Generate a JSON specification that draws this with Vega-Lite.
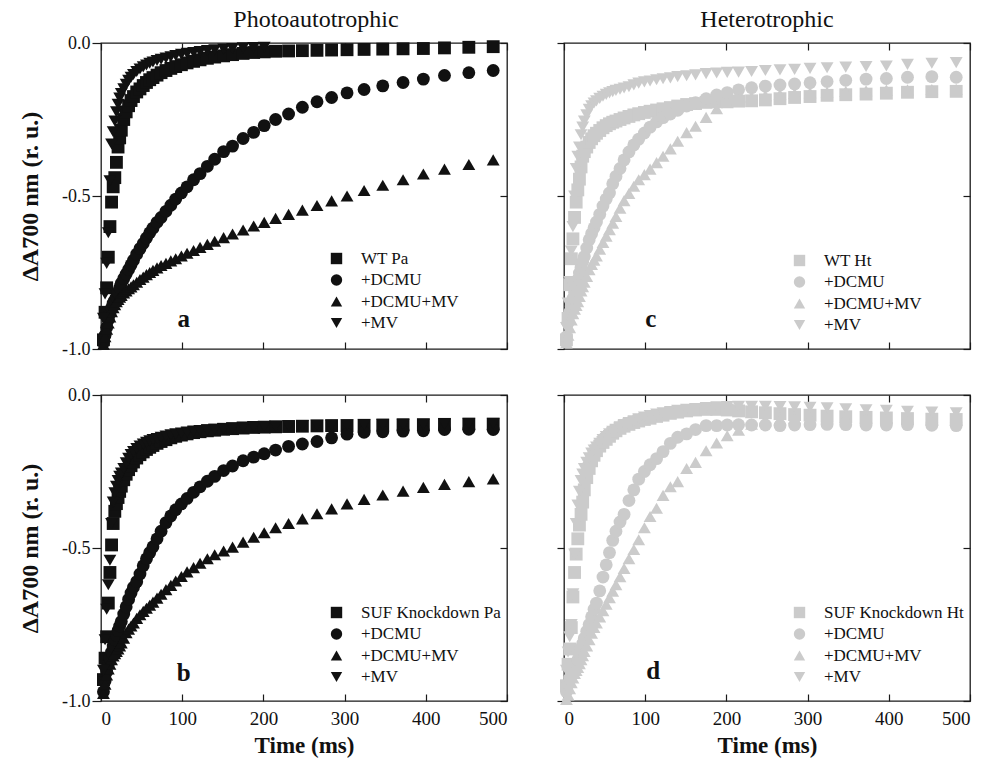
{
"$schema": "https://vega.github.io/schema/vega-lite/v6.json",
"background": "white",
"padding": {"left": 17, "top": 7, "right": 0, "bottom": 0},
"config": {
  "view": {"stroke": "#1a1a1a", "strokeWidth": 1.3},
  "axis": {"domain": false, "grid": false, "tickColor": "#1a1a1a", "tickWidth": 1.2, "labelColor": "#111", "titleColor": "#111"},
  "font": "Liberation Serif"
},
"datasets": {
"lbl": [
{"p":"a","t":102,"v":-0.928},{"p":"b","t":102,"v":-0.935},{"p":"c","t":107,"v":-0.928},{"p":"d","t":110,"v":-0.928}
],
"pts": [
{"p":"a","s":"WT Pa","t":3,"v":-0.97},{"p":"a","s":"WT Pa","t":5,"v":-0.88},{"p":"a","s":"WT Pa","t":7,"v":-0.80},{"p":"a","s":"WT Pa","t":9,"v":-0.70},{"p":"a","s":"WT Pa","t":11,"v":-0.60},{"p":"a","s":"WT Pa","t":13,"v":-0.52},{"p":"a","s":"WT Pa","t":15,"v":-0.47},{"p":"a","s":"WT Pa","t":17,"v":-0.44},{"p":"a","s":"WT Pa","t":19,"v":-0.39},{"p":"a","s":"WT Pa","t":21,"v":-0.34},{"p":"a","s":"WT Pa","t":23,"v":-0.31},{"p":"a","s":"WT Pa","t":25,"v":-0.285},{"p":"a","s":"WT Pa","t":28,"v":-0.25},{"p":"a","s":"WT Pa","t":31,"v":-0.225},{"p":"a","s":"WT Pa","t":34,"v":-0.205},{"p":"a","s":"WT Pa","t":37,"v":-0.188},{"p":"a","s":"WT Pa","t":40,"v":-0.175},{"p":"a","s":"WT Pa","t":44,"v":-0.16},{"p":"a","s":"WT Pa","t":48,"v":-0.15},{"p":"a","s":"WT Pa","t":52,"v":-0.139},{"p":"a","s":"WT Pa","t":56,"v":-0.129},{"p":"a","s":"WT Pa","t":60,"v":-0.12},{"p":"a","s":"WT Pa","t":64,"v":-0.113},{"p":"a","s":"WT Pa","t":69,"v":-0.105},{"p":"a","s":"WT Pa","t":74,"v":-0.097},{"p":"a","s":"WT Pa","t":80,"v":-0.09},{"p":"a","s":"WT Pa","t":86,"v":-0.083},{"p":"a","s":"WT Pa","t":92,"v":-0.077},{"p":"a","s":"WT Pa","t":99,"v":-0.071},{"p":"a","s":"WT Pa","t":106,"v":-0.065},{"p":"a","s":"WT Pa","t":114,"v":-0.06},{"p":"a","s":"WT Pa","t":122,"v":-0.055},{"p":"a","s":"WT Pa","t":131,"v":-0.05},{"p":"a","s":"WT Pa","t":140,"v":-0.046},{"p":"a","s":"WT Pa","t":151,"v":-0.042},{"p":"a","s":"WT Pa","t":162,"v":-0.038},{"p":"a","s":"WT Pa","t":175,"v":-0.034},{"p":"a","s":"WT Pa","t":188,"v":-0.031},{"p":"a","s":"WT Pa","t":201,"v":-0.029},{"p":"a","s":"WT Pa","t":215,"v":-0.027},{"p":"a","s":"WT Pa","t":231,"v":-0.026},{"p":"a","s":"WT Pa","t":248,"v":-0.025},{"p":"a","s":"WT Pa","t":266,"v":-0.024},{"p":"a","s":"WT Pa","t":284,"v":-0.023},{"p":"a","s":"WT Pa","t":303,"v":-0.022},{"p":"a","s":"WT Pa","t":324,"v":-0.021},{"p":"a","s":"WT Pa","t":347,"v":-0.02},{"p":"a","s":"WT Pa","t":372,"v":-0.019},{"p":"a","s":"WT Pa","t":397,"v":-0.018},{"p":"a","s":"WT Pa","t":423,"v":-0.016},{"p":"a","s":"WT Pa","t":453,"v":-0.014},{"p":"a","s":"WT Pa","t":483,"v":-0.012},
{"p":"a","s":"+DCMU","t":3,"v":-0.98},{"p":"a","s":"+DCMU","t":5,"v":-0.955},{"p":"a","s":"+DCMU","t":7,"v":-0.93},{"p":"a","s":"+DCMU","t":9,"v":-0.905},{"p":"a","s":"+DCMU","t":11,"v":-0.885},{"p":"a","s":"+DCMU","t":13,"v":-0.865},{"p":"a","s":"+DCMU","t":15,"v":-0.85},{"p":"a","s":"+DCMU","t":17,"v":-0.84},{"p":"a","s":"+DCMU","t":19,"v":-0.83},{"p":"a","s":"+DCMU","t":21,"v":-0.815},{"p":"a","s":"+DCMU","t":23,"v":-0.80},{"p":"a","s":"+DCMU","t":25,"v":-0.785},{"p":"a","s":"+DCMU","t":28,"v":-0.77},{"p":"a","s":"+DCMU","t":31,"v":-0.755},{"p":"a","s":"+DCMU","t":34,"v":-0.74},{"p":"a","s":"+DCMU","t":37,"v":-0.725},{"p":"a","s":"+DCMU","t":40,"v":-0.71},{"p":"a","s":"+DCMU","t":44,"v":-0.69},{"p":"a","s":"+DCMU","t":48,"v":-0.672},{"p":"a","s":"+DCMU","t":52,"v":-0.655},{"p":"a","s":"+DCMU","t":56,"v":-0.637},{"p":"a","s":"+DCMU","t":60,"v":-0.62},{"p":"a","s":"+DCMU","t":64,"v":-0.605},{"p":"a","s":"+DCMU","t":69,"v":-0.586},{"p":"a","s":"+DCMU","t":74,"v":-0.57},{"p":"a","s":"+DCMU","t":80,"v":-0.55},{"p":"a","s":"+DCMU","t":86,"v":-0.53},{"p":"a","s":"+DCMU","t":92,"v":-0.51},{"p":"a","s":"+DCMU","t":99,"v":-0.49},{"p":"a","s":"+DCMU","t":106,"v":-0.47},{"p":"a","s":"+DCMU","t":114,"v":-0.447},{"p":"a","s":"+DCMU","t":122,"v":-0.427},{"p":"a","s":"+DCMU","t":131,"v":-0.403},{"p":"a","s":"+DCMU","t":140,"v":-0.38},{"p":"a","s":"+DCMU","t":151,"v":-0.355},{"p":"a","s":"+DCMU","t":162,"v":-0.337},{"p":"a","s":"+DCMU","t":175,"v":-0.312},{"p":"a","s":"+DCMU","t":188,"v":-0.292},{"p":"a","s":"+DCMU","t":201,"v":-0.27},{"p":"a","s":"+DCMU","t":215,"v":-0.25},{"p":"a","s":"+DCMU","t":231,"v":-0.232},{"p":"a","s":"+DCMU","t":248,"v":-0.21},{"p":"a","s":"+DCMU","t":266,"v":-0.192},{"p":"a","s":"+DCMU","t":284,"v":-0.178},{"p":"a","s":"+DCMU","t":303,"v":-0.163},{"p":"a","s":"+DCMU","t":324,"v":-0.152},{"p":"a","s":"+DCMU","t":347,"v":-0.14},{"p":"a","s":"+DCMU","t":372,"v":-0.129},{"p":"a","s":"+DCMU","t":397,"v":-0.118},{"p":"a","s":"+DCMU","t":423,"v":-0.106},{"p":"a","s":"+DCMU","t":453,"v":-0.097},{"p":"a","s":"+DCMU","t":483,"v":-0.09},
{"p":"a","s":"+DCMU+MV","t":3,"v":-0.985},{"p":"a","s":"+DCMU+MV","t":5,"v":-0.96},{"p":"a","s":"+DCMU+MV","t":7,"v":-0.935},{"p":"a","s":"+DCMU+MV","t":9,"v":-0.915},{"p":"a","s":"+DCMU+MV","t":11,"v":-0.895},{"p":"a","s":"+DCMU+MV","t":13,"v":-0.878},{"p":"a","s":"+DCMU+MV","t":15,"v":-0.865},{"p":"a","s":"+DCMU+MV","t":17,"v":-0.855},{"p":"a","s":"+DCMU+MV","t":19,"v":-0.845},{"p":"a","s":"+DCMU+MV","t":21,"v":-0.838},{"p":"a","s":"+DCMU+MV","t":23,"v":-0.831},{"p":"a","s":"+DCMU+MV","t":25,"v":-0.825},{"p":"a","s":"+DCMU+MV","t":28,"v":-0.817},{"p":"a","s":"+DCMU+MV","t":31,"v":-0.81},{"p":"a","s":"+DCMU+MV","t":34,"v":-0.803},{"p":"a","s":"+DCMU+MV","t":37,"v":-0.797},{"p":"a","s":"+DCMU+MV","t":40,"v":-0.79},{"p":"a","s":"+DCMU+MV","t":44,"v":-0.782},{"p":"a","s":"+DCMU+MV","t":48,"v":-0.773},{"p":"a","s":"+DCMU+MV","t":52,"v":-0.765},{"p":"a","s":"+DCMU+MV","t":56,"v":-0.757},{"p":"a","s":"+DCMU+MV","t":60,"v":-0.75},{"p":"a","s":"+DCMU+MV","t":64,"v":-0.743},{"p":"a","s":"+DCMU+MV","t":69,"v":-0.735},{"p":"a","s":"+DCMU+MV","t":74,"v":-0.727},{"p":"a","s":"+DCMU+MV","t":80,"v":-0.72},{"p":"a","s":"+DCMU+MV","t":86,"v":-0.712},{"p":"a","s":"+DCMU+MV","t":92,"v":-0.705},{"p":"a","s":"+DCMU+MV","t":99,"v":-0.696},{"p":"a","s":"+DCMU+MV","t":106,"v":-0.687},{"p":"a","s":"+DCMU+MV","t":114,"v":-0.678},{"p":"a","s":"+DCMU+MV","t":122,"v":-0.668},{"p":"a","s":"+DCMU+MV","t":131,"v":-0.658},{"p":"a","s":"+DCMU+MV","t":140,"v":-0.648},{"p":"a","s":"+DCMU+MV","t":151,"v":-0.636},{"p":"a","s":"+DCMU+MV","t":162,"v":-0.624},{"p":"a","s":"+DCMU+MV","t":175,"v":-0.611},{"p":"a","s":"+DCMU+MV","t":188,"v":-0.598},{"p":"a","s":"+DCMU+MV","t":201,"v":-0.586},{"p":"a","s":"+DCMU+MV","t":215,"v":-0.573},{"p":"a","s":"+DCMU+MV","t":231,"v":-0.56},{"p":"a","s":"+DCMU+MV","t":248,"v":-0.546},{"p":"a","s":"+DCMU+MV","t":266,"v":-0.531},{"p":"a","s":"+DCMU+MV","t":284,"v":-0.516},{"p":"a","s":"+DCMU+MV","t":303,"v":-0.5},{"p":"a","s":"+DCMU+MV","t":324,"v":-0.482},{"p":"a","s":"+DCMU+MV","t":347,"v":-0.465},{"p":"a","s":"+DCMU+MV","t":372,"v":-0.447},{"p":"a","s":"+DCMU+MV","t":397,"v":-0.428},{"p":"a","s":"+DCMU+MV","t":423,"v":-0.412},{"p":"a","s":"+DCMU+MV","t":453,"v":-0.397},{"p":"a","s":"+DCMU+MV","t":483,"v":-0.382},
{"p":"a","s":"+MV","t":3,"v":-0.9},{"p":"a","s":"+MV","t":5,"v":-0.82},{"p":"a","s":"+MV","t":7,"v":-0.72},{"p":"a","s":"+MV","t":9,"v":-0.62},{"p":"a","s":"+MV","t":11,"v":-0.45},{"p":"a","s":"+MV","t":13,"v":-0.33},{"p":"a","s":"+MV","t":15,"v":-0.29},{"p":"a","s":"+MV","t":17,"v":-0.255},{"p":"a","s":"+MV","t":19,"v":-0.225},{"p":"a","s":"+MV","t":21,"v":-0.2},{"p":"a","s":"+MV","t":23,"v":-0.18},{"p":"a","s":"+MV","t":25,"v":-0.165},{"p":"a","s":"+MV","t":28,"v":-0.15},{"p":"a","s":"+MV","t":31,"v":-0.135},{"p":"a","s":"+MV","t":34,"v":-0.122},{"p":"a","s":"+MV","t":37,"v":-0.112},{"p":"a","s":"+MV","t":40,"v":-0.103},{"p":"a","s":"+MV","t":44,"v":-0.093},{"p":"a","s":"+MV","t":48,"v":-0.085},{"p":"a","s":"+MV","t":52,"v":-0.078},{"p":"a","s":"+MV","t":56,"v":-0.072},{"p":"a","s":"+MV","t":60,"v":-0.066},{"p":"a","s":"+MV","t":64,"v":-0.062},{"p":"a","s":"+MV","t":69,"v":-0.057},{"p":"a","s":"+MV","t":74,"v":-0.053},{"p":"a","s":"+MV","t":80,"v":-0.049},{"p":"a","s":"+MV","t":86,"v":-0.045},{"p":"a","s":"+MV","t":92,"v":-0.041},{"p":"a","s":"+MV","t":99,"v":-0.037},{"p":"a","s":"+MV","t":106,"v":-0.034},{"p":"a","s":"+MV","t":114,"v":-0.031},{"p":"a","s":"+MV","t":122,"v":-0.028},{"p":"a","s":"+MV","t":131,"v":-0.025},{"p":"a","s":"+MV","t":140,"v":-0.022},{"p":"a","s":"+MV","t":151,"v":-0.02},{"p":"a","s":"+MV","t":162,"v":-0.018},{"p":"a","s":"+MV","t":175,"v":-0.016},{"p":"a","s":"+MV","t":188,"v":-0.015},{"p":"a","s":"+MV","t":201,"v":-0.014},
{"p":"b","s":"SUF Knockdown Pa","t":3,"v":-0.93},{"p":"b","s":"SUF Knockdown Pa","t":5,"v":-0.86},{"p":"b","s":"SUF Knockdown Pa","t":7,"v":-0.79},{"p":"b","s":"SUF Knockdown Pa","t":9,"v":-0.68},{"p":"b","s":"SUF Knockdown Pa","t":11,"v":-0.58},{"p":"b","s":"SUF Knockdown Pa","t":13,"v":-0.49},{"p":"b","s":"SUF Knockdown Pa","t":15,"v":-0.42},{"p":"b","s":"SUF Knockdown Pa","t":17,"v":-0.38},{"p":"b","s":"SUF Knockdown Pa","t":19,"v":-0.355},{"p":"b","s":"SUF Knockdown Pa","t":21,"v":-0.335},{"p":"b","s":"SUF Knockdown Pa","t":23,"v":-0.315},{"p":"b","s":"SUF Knockdown Pa","t":25,"v":-0.298},{"p":"b","s":"SUF Knockdown Pa","t":28,"v":-0.277},{"p":"b","s":"SUF Knockdown Pa","t":31,"v":-0.259},{"p":"b","s":"SUF Knockdown Pa","t":34,"v":-0.244},{"p":"b","s":"SUF Knockdown Pa","t":37,"v":-0.231},{"p":"b","s":"SUF Knockdown Pa","t":40,"v":-0.219},{"p":"b","s":"SUF Knockdown Pa","t":44,"v":-0.206},{"p":"b","s":"SUF Knockdown Pa","t":48,"v":-0.195},{"p":"b","s":"SUF Knockdown Pa","t":52,"v":-0.186},{"p":"b","s":"SUF Knockdown Pa","t":56,"v":-0.178},{"p":"b","s":"SUF Knockdown Pa","t":60,"v":-0.171},{"p":"b","s":"SUF Knockdown Pa","t":64,"v":-0.165},{"p":"b","s":"SUF Knockdown Pa","t":69,"v":-0.158},{"p":"b","s":"SUF Knockdown Pa","t":74,"v":-0.152},{"p":"b","s":"SUF Knockdown Pa","t":80,"v":-0.146},{"p":"b","s":"SUF Knockdown Pa","t":86,"v":-0.14},{"p":"b","s":"SUF Knockdown Pa","t":92,"v":-0.135},{"p":"b","s":"SUF Knockdown Pa","t":99,"v":-0.131},{"p":"b","s":"SUF Knockdown Pa","t":106,"v":-0.127},{"p":"b","s":"SUF Knockdown Pa","t":114,"v":-0.123},{"p":"b","s":"SUF Knockdown Pa","t":122,"v":-0.12},{"p":"b","s":"SUF Knockdown Pa","t":131,"v":-0.117},{"p":"b","s":"SUF Knockdown Pa","t":140,"v":-0.115},{"p":"b","s":"SUF Knockdown Pa","t":151,"v":-0.112},{"p":"b","s":"SUF Knockdown Pa","t":162,"v":-0.11},{"p":"b","s":"SUF Knockdown Pa","t":175,"v":-0.108},{"p":"b","s":"SUF Knockdown Pa","t":188,"v":-0.106},{"p":"b","s":"SUF Knockdown Pa","t":201,"v":-0.105},{"p":"b","s":"SUF Knockdown Pa","t":215,"v":-0.104},{"p":"b","s":"SUF Knockdown Pa","t":231,"v":-0.103},{"p":"b","s":"SUF Knockdown Pa","t":248,"v":-0.102},{"p":"b","s":"SUF Knockdown Pa","t":266,"v":-0.101},{"p":"b","s":"SUF Knockdown Pa","t":284,"v":-0.1},{"p":"b","s":"SUF Knockdown Pa","t":303,"v":-0.1},{"p":"b","s":"SUF Knockdown Pa","t":324,"v":-0.099},{"p":"b","s":"SUF Knockdown Pa","t":347,"v":-0.098},{"p":"b","s":"SUF Knockdown Pa","t":372,"v":-0.097},{"p":"b","s":"SUF Knockdown Pa","t":397,"v":-0.097},{"p":"b","s":"SUF Knockdown Pa","t":423,"v":-0.096},{"p":"b","s":"SUF Knockdown Pa","t":453,"v":-0.095},{"p":"b","s":"SUF Knockdown Pa","t":483,"v":-0.095},
{"p":"b","s":"+DCMU","t":3,"v":-0.97},{"p":"b","s":"+DCMU","t":5,"v":-0.935},{"p":"b","s":"+DCMU","t":7,"v":-0.905},{"p":"b","s":"+DCMU","t":9,"v":-0.88},{"p":"b","s":"+DCMU","t":11,"v":-0.86},{"p":"b","s":"+DCMU","t":13,"v":-0.84},{"p":"b","s":"+DCMU","t":15,"v":-0.82},{"p":"b","s":"+DCMU","t":17,"v":-0.8},{"p":"b","s":"+DCMU","t":19,"v":-0.785},{"p":"b","s":"+DCMU","t":21,"v":-0.77},{"p":"b","s":"+DCMU","t":23,"v":-0.755},{"p":"b","s":"+DCMU","t":25,"v":-0.74},{"p":"b","s":"+DCMU","t":28,"v":-0.716},{"p":"b","s":"+DCMU","t":31,"v":-0.692},{"p":"b","s":"+DCMU","t":34,"v":-0.668},{"p":"b","s":"+DCMU","t":37,"v":-0.647},{"p":"b","s":"+DCMU","t":40,"v":-0.628},{"p":"b","s":"+DCMU","t":44,"v":-0.61},{"p":"b","s":"+DCMU","t":48,"v":-0.585},{"p":"b","s":"+DCMU","t":52,"v":-0.558},{"p":"b","s":"+DCMU","t":56,"v":-0.535},{"p":"b","s":"+DCMU","t":60,"v":-0.515},{"p":"b","s":"+DCMU","t":64,"v":-0.496},{"p":"b","s":"+DCMU","t":69,"v":-0.47},{"p":"b","s":"+DCMU","t":74,"v":-0.445},{"p":"b","s":"+DCMU","t":80,"v":-0.417},{"p":"b","s":"+DCMU","t":86,"v":-0.395},{"p":"b","s":"+DCMU","t":92,"v":-0.375},{"p":"b","s":"+DCMU","t":99,"v":-0.356},{"p":"b","s":"+DCMU","t":106,"v":-0.338},{"p":"b","s":"+DCMU","t":114,"v":-0.318},{"p":"b","s":"+DCMU","t":122,"v":-0.3},{"p":"b","s":"+DCMU","t":131,"v":-0.282},{"p":"b","s":"+DCMU","t":140,"v":-0.266},{"p":"b","s":"+DCMU","t":151,"v":-0.247},{"p":"b","s":"+DCMU","t":162,"v":-0.232},{"p":"b","s":"+DCMU","t":175,"v":-0.215},{"p":"b","s":"+DCMU","t":188,"v":-0.203},{"p":"b","s":"+DCMU","t":201,"v":-0.192},{"p":"b","s":"+DCMU","t":215,"v":-0.18},{"p":"b","s":"+DCMU","t":231,"v":-0.168},{"p":"b","s":"+DCMU","t":248,"v":-0.16},{"p":"b","s":"+DCMU","t":266,"v":-0.152},{"p":"b","s":"+DCMU","t":284,"v":-0.14},{"p":"b","s":"+DCMU","t":303,"v":-0.128},{"p":"b","s":"+DCMU","t":324,"v":-0.122},{"p":"b","s":"+DCMU","t":347,"v":-0.12},{"p":"b","s":"+DCMU","t":372,"v":-0.118},{"p":"b","s":"+DCMU","t":397,"v":-0.117},{"p":"b","s":"+DCMU","t":423,"v":-0.113},{"p":"b","s":"+DCMU","t":453,"v":-0.112},{"p":"b","s":"+DCMU","t":483,"v":-0.113},
{"p":"b","s":"+DCMU+MV","t":3,"v":-0.975},{"p":"b","s":"+DCMU+MV","t":5,"v":-0.945},{"p":"b","s":"+DCMU+MV","t":7,"v":-0.915},{"p":"b","s":"+DCMU+MV","t":9,"v":-0.895},{"p":"b","s":"+DCMU+MV","t":11,"v":-0.88},{"p":"b","s":"+DCMU+MV","t":13,"v":-0.865},{"p":"b","s":"+DCMU+MV","t":15,"v":-0.853},{"p":"b","s":"+DCMU+MV","t":17,"v":-0.845},{"p":"b","s":"+DCMU+MV","t":19,"v":-0.838},{"p":"b","s":"+DCMU+MV","t":21,"v":-0.83},{"p":"b","s":"+DCMU+MV","t":23,"v":-0.82},{"p":"b","s":"+DCMU+MV","t":25,"v":-0.81},{"p":"b","s":"+DCMU+MV","t":28,"v":-0.795},{"p":"b","s":"+DCMU+MV","t":31,"v":-0.777},{"p":"b","s":"+DCMU+MV","t":34,"v":-0.765},{"p":"b","s":"+DCMU+MV","t":37,"v":-0.755},{"p":"b","s":"+DCMU+MV","t":40,"v":-0.745},{"p":"b","s":"+DCMU+MV","t":44,"v":-0.73},{"p":"b","s":"+DCMU+MV","t":48,"v":-0.718},{"p":"b","s":"+DCMU+MV","t":52,"v":-0.707},{"p":"b","s":"+DCMU+MV","t":56,"v":-0.697},{"p":"b","s":"+DCMU+MV","t":60,"v":-0.687},{"p":"b","s":"+DCMU+MV","t":64,"v":-0.677},{"p":"b","s":"+DCMU+MV","t":69,"v":-0.664},{"p":"b","s":"+DCMU+MV","t":74,"v":-0.651},{"p":"b","s":"+DCMU+MV","t":80,"v":-0.636},{"p":"b","s":"+DCMU+MV","t":86,"v":-0.622},{"p":"b","s":"+DCMU+MV","t":92,"v":-0.608},{"p":"b","s":"+DCMU+MV","t":99,"v":-0.593},{"p":"b","s":"+DCMU+MV","t":106,"v":-0.578},{"p":"b","s":"+DCMU+MV","t":114,"v":-0.564},{"p":"b","s":"+DCMU+MV","t":122,"v":-0.55},{"p":"b","s":"+DCMU+MV","t":131,"v":-0.535},{"p":"b","s":"+DCMU+MV","t":140,"v":-0.522},{"p":"b","s":"+DCMU+MV","t":151,"v":-0.51},{"p":"b","s":"+DCMU+MV","t":162,"v":-0.497},{"p":"b","s":"+DCMU+MV","t":175,"v":-0.481},{"p":"b","s":"+DCMU+MV","t":188,"v":-0.465},{"p":"b","s":"+DCMU+MV","t":201,"v":-0.45},{"p":"b","s":"+DCMU+MV","t":215,"v":-0.434},{"p":"b","s":"+DCMU+MV","t":231,"v":-0.42},{"p":"b","s":"+DCMU+MV","t":248,"v":-0.405},{"p":"b","s":"+DCMU+MV","t":266,"v":-0.388},{"p":"b","s":"+DCMU+MV","t":284,"v":-0.372},{"p":"b","s":"+DCMU+MV","t":303,"v":-0.356},{"p":"b","s":"+DCMU+MV","t":324,"v":-0.341},{"p":"b","s":"+DCMU+MV","t":347,"v":-0.327},{"p":"b","s":"+DCMU+MV","t":372,"v":-0.314},{"p":"b","s":"+DCMU+MV","t":397,"v":-0.302},{"p":"b","s":"+DCMU+MV","t":423,"v":-0.292},{"p":"b","s":"+DCMU+MV","t":453,"v":-0.283},{"p":"b","s":"+DCMU+MV","t":483,"v":-0.274},
{"p":"b","s":"+MV","t":3,"v":-0.9},{"p":"b","s":"+MV","t":5,"v":-0.8},{"p":"b","s":"+MV","t":7,"v":-0.7},{"p":"b","s":"+MV","t":9,"v":-0.62},{"p":"b","s":"+MV","t":11,"v":-0.54},{"p":"b","s":"+MV","t":13,"v":-0.42},{"p":"b","s":"+MV","t":15,"v":-0.35},{"p":"b","s":"+MV","t":17,"v":-0.32},{"p":"b","s":"+MV","t":19,"v":-0.298},{"p":"b","s":"+MV","t":21,"v":-0.28},{"p":"b","s":"+MV","t":23,"v":-0.266},{"p":"b","s":"+MV","t":25,"v":-0.255},{"p":"b","s":"+MV","t":28,"v":-0.24},{"p":"b","s":"+MV","t":31,"v":-0.222},{"p":"b","s":"+MV","t":34,"v":-0.207},{"p":"b","s":"+MV","t":37,"v":-0.195},{"p":"b","s":"+MV","t":40,"v":-0.185},{"p":"b","s":"+MV","t":44,"v":-0.175},{"p":"b","s":"+MV","t":48,"v":-0.167},{"p":"b","s":"+MV","t":52,"v":-0.16},{"p":"b","s":"+MV","t":56,"v":-0.155},{"p":"b","s":"+MV","t":60,"v":-0.15},{"p":"b","s":"+MV","t":64,"v":-0.146},{"p":"b","s":"+MV","t":69,"v":-0.142},{"p":"b","s":"+MV","t":74,"v":-0.138},{"p":"b","s":"+MV","t":80,"v":-0.134},{"p":"b","s":"+MV","t":86,"v":-0.13},{"p":"b","s":"+MV","t":92,"v":-0.127},{"p":"b","s":"+MV","t":99,"v":-0.124},{"p":"b","s":"+MV","t":106,"v":-0.121},{"p":"b","s":"+MV","t":114,"v":-0.118},{"p":"b","s":"+MV","t":122,"v":-0.116},{"p":"b","s":"+MV","t":131,"v":-0.114},{"p":"b","s":"+MV","t":140,"v":-0.112},{"p":"b","s":"+MV","t":151,"v":-0.11},{"p":"b","s":"+MV","t":162,"v":-0.108},{"p":"b","s":"+MV","t":175,"v":-0.106},{"p":"b","s":"+MV","t":188,"v":-0.104},{"p":"b","s":"+MV","t":201,"v":-0.103},{"p":"b","s":"+MV","t":215,"v":-0.102},{"p":"b","s":"+MV","t":231,"v":-0.101},{"p":"b","s":"+MV","t":248,"v":-0.1},{"p":"b","s":"+MV","t":266,"v":-0.099},{"p":"b","s":"+MV","t":284,"v":-0.099},{"p":"b","s":"+MV","t":303,"v":-0.098},{"p":"b","s":"+MV","t":324,"v":-0.098},{"p":"b","s":"+MV","t":347,"v":-0.097},{"p":"b","s":"+MV","t":372,"v":-0.097},{"p":"b","s":"+MV","t":397,"v":-0.096},{"p":"b","s":"+MV","t":423,"v":-0.095},{"p":"b","s":"+MV","t":453,"v":-0.094},{"p":"b","s":"+MV","t":483,"v":-0.094},
{"p":"c","s":"WT Ht","t":3,"v":-0.97},{"p":"c","s":"WT Ht","t":5,"v":-0.9},{"p":"c","s":"WT Ht","t":7,"v":-0.79},{"p":"c","s":"WT Ht","t":9,"v":-0.705},{"p":"c","s":"WT Ht","t":11,"v":-0.64},{"p":"c","s":"WT Ht","t":13,"v":-0.57},{"p":"c","s":"WT Ht","t":15,"v":-0.52},{"p":"c","s":"WT Ht","t":17,"v":-0.48},{"p":"c","s":"WT Ht","t":19,"v":-0.445},{"p":"c","s":"WT Ht","t":21,"v":-0.405},{"p":"c","s":"WT Ht","t":23,"v":-0.37},{"p":"c","s":"WT Ht","t":25,"v":-0.355},{"p":"c","s":"WT Ht","t":28,"v":-0.34},{"p":"c","s":"WT Ht","t":31,"v":-0.325},{"p":"c","s":"WT Ht","t":34,"v":-0.313},{"p":"c","s":"WT Ht","t":37,"v":-0.303},{"p":"c","s":"WT Ht","t":40,"v":-0.295},{"p":"c","s":"WT Ht","t":44,"v":-0.286},{"p":"c","s":"WT Ht","t":48,"v":-0.277},{"p":"c","s":"WT Ht","t":52,"v":-0.27},{"p":"c","s":"WT Ht","t":56,"v":-0.264},{"p":"c","s":"WT Ht","t":60,"v":-0.259},{"p":"c","s":"WT Ht","t":64,"v":-0.255},{"p":"c","s":"WT Ht","t":69,"v":-0.25},{"p":"c","s":"WT Ht","t":74,"v":-0.245},{"p":"c","s":"WT Ht","t":80,"v":-0.24},{"p":"c","s":"WT Ht","t":86,"v":-0.235},{"p":"c","s":"WT Ht","t":92,"v":-0.231},{"p":"c","s":"WT Ht","t":99,"v":-0.227},{"p":"c","s":"WT Ht","t":106,"v":-0.223},{"p":"c","s":"WT Ht","t":114,"v":-0.219},{"p":"c","s":"WT Ht","t":122,"v":-0.215},{"p":"c","s":"WT Ht","t":131,"v":-0.211},{"p":"c","s":"WT Ht","t":140,"v":-0.206},{"p":"c","s":"WT Ht","t":151,"v":-0.201},{"p":"c","s":"WT Ht","t":162,"v":-0.198},{"p":"c","s":"WT Ht","t":175,"v":-0.194},{"p":"c","s":"WT Ht","t":188,"v":-0.192},{"p":"c","s":"WT Ht","t":201,"v":-0.19},{"p":"c","s":"WT Ht","t":215,"v":-0.19},{"p":"c","s":"WT Ht","t":231,"v":-0.189},{"p":"c","s":"WT Ht","t":248,"v":-0.186},{"p":"c","s":"WT Ht","t":266,"v":-0.182},{"p":"c","s":"WT Ht","t":284,"v":-0.178},{"p":"c","s":"WT Ht","t":303,"v":-0.175},{"p":"c","s":"WT Ht","t":324,"v":-0.171},{"p":"c","s":"WT Ht","t":347,"v":-0.169},{"p":"c","s":"WT Ht","t":372,"v":-0.167},{"p":"c","s":"WT Ht","t":397,"v":-0.164},{"p":"c","s":"WT Ht","t":423,"v":-0.161},{"p":"c","s":"WT Ht","t":453,"v":-0.159},{"p":"c","s":"WT Ht","t":483,"v":-0.158},
{"p":"c","s":"+DCMU","t":3,"v":-0.96},{"p":"c","s":"+DCMU","t":5,"v":-0.915},{"p":"c","s":"+DCMU","t":7,"v":-0.88},{"p":"c","s":"+DCMU","t":9,"v":-0.86},{"p":"c","s":"+DCMU","t":11,"v":-0.835},{"p":"c","s":"+DCMU","t":13,"v":-0.815},{"p":"c","s":"+DCMU","t":15,"v":-0.795},{"p":"c","s":"+DCMU","t":17,"v":-0.773},{"p":"c","s":"+DCMU","t":19,"v":-0.752},{"p":"c","s":"+DCMU","t":21,"v":-0.733},{"p":"c","s":"+DCMU","t":23,"v":-0.715},{"p":"c","s":"+DCMU","t":25,"v":-0.698},{"p":"c","s":"+DCMU","t":28,"v":-0.67},{"p":"c","s":"+DCMU","t":31,"v":-0.643},{"p":"c","s":"+DCMU","t":34,"v":-0.623},{"p":"c","s":"+DCMU","t":37,"v":-0.604},{"p":"c","s":"+DCMU","t":40,"v":-0.585},{"p":"c","s":"+DCMU","t":44,"v":-0.56},{"p":"c","s":"+DCMU","t":48,"v":-0.533},{"p":"c","s":"+DCMU","t":52,"v":-0.51},{"p":"c","s":"+DCMU","t":56,"v":-0.49},{"p":"c","s":"+DCMU","t":60,"v":-0.46},{"p":"c","s":"+DCMU","t":64,"v":-0.436},{"p":"c","s":"+DCMU","t":69,"v":-0.41},{"p":"c","s":"+DCMU","t":74,"v":-0.382},{"p":"c","s":"+DCMU","t":80,"v":-0.356},{"p":"c","s":"+DCMU","t":86,"v":-0.333},{"p":"c","s":"+DCMU","t":92,"v":-0.314},{"p":"c","s":"+DCMU","t":99,"v":-0.294},{"p":"c","s":"+DCMU","t":106,"v":-0.275},{"p":"c","s":"+DCMU","t":114,"v":-0.258},{"p":"c","s":"+DCMU","t":122,"v":-0.244},{"p":"c","s":"+DCMU","t":131,"v":-0.232},{"p":"c","s":"+DCMU","t":140,"v":-0.22},{"p":"c","s":"+DCMU","t":151,"v":-0.206},{"p":"c","s":"+DCMU","t":162,"v":-0.195},{"p":"c","s":"+DCMU","t":175,"v":-0.182},{"p":"c","s":"+DCMU","t":188,"v":-0.17},{"p":"c","s":"+DCMU","t":201,"v":-0.162},{"p":"c","s":"+DCMU","t":215,"v":-0.153},{"p":"c","s":"+DCMU","t":231,"v":-0.146},{"p":"c","s":"+DCMU","t":248,"v":-0.141},{"p":"c","s":"+DCMU","t":266,"v":-0.137},{"p":"c","s":"+DCMU","t":284,"v":-0.134},{"p":"c","s":"+DCMU","t":303,"v":-0.13},{"p":"c","s":"+DCMU","t":324,"v":-0.126},{"p":"c","s":"+DCMU","t":347,"v":-0.122},{"p":"c","s":"+DCMU","t":372,"v":-0.118},{"p":"c","s":"+DCMU","t":397,"v":-0.116},{"p":"c","s":"+DCMU","t":423,"v":-0.112},{"p":"c","s":"+DCMU","t":453,"v":-0.11},{"p":"c","s":"+DCMU","t":483,"v":-0.112},
{"p":"c","s":"+DCMU+MV","t":3,"v":-0.98},{"p":"c","s":"+DCMU+MV","t":5,"v":-0.955},{"p":"c","s":"+DCMU+MV","t":7,"v":-0.93},{"p":"c","s":"+DCMU+MV","t":9,"v":-0.905},{"p":"c","s":"+DCMU+MV","t":11,"v":-0.885},{"p":"c","s":"+DCMU+MV","t":13,"v":-0.87},{"p":"c","s":"+DCMU+MV","t":15,"v":-0.858},{"p":"c","s":"+DCMU+MV","t":17,"v":-0.845},{"p":"c","s":"+DCMU+MV","t":19,"v":-0.828},{"p":"c","s":"+DCMU+MV","t":21,"v":-0.81},{"p":"c","s":"+DCMU+MV","t":23,"v":-0.796},{"p":"c","s":"+DCMU+MV","t":25,"v":-0.782},{"p":"c","s":"+DCMU+MV","t":28,"v":-0.763},{"p":"c","s":"+DCMU+MV","t":31,"v":-0.741},{"p":"c","s":"+DCMU+MV","t":34,"v":-0.724},{"p":"c","s":"+DCMU+MV","t":37,"v":-0.71},{"p":"c","s":"+DCMU+MV","t":40,"v":-0.696},{"p":"c","s":"+DCMU+MV","t":44,"v":-0.674},{"p":"c","s":"+DCMU+MV","t":48,"v":-0.652},{"p":"c","s":"+DCMU+MV","t":52,"v":-0.631},{"p":"c","s":"+DCMU+MV","t":56,"v":-0.61},{"p":"c","s":"+DCMU+MV","t":60,"v":-0.589},{"p":"c","s":"+DCMU+MV","t":64,"v":-0.567},{"p":"c","s":"+DCMU+MV","t":69,"v":-0.54},{"p":"c","s":"+DCMU+MV","t":74,"v":-0.515},{"p":"c","s":"+DCMU+MV","t":80,"v":-0.492},{"p":"c","s":"+DCMU+MV","t":86,"v":-0.468},{"p":"c","s":"+DCMU+MV","t":92,"v":-0.447},{"p":"c","s":"+DCMU+MV","t":99,"v":-0.43},{"p":"c","s":"+DCMU+MV","t":106,"v":-0.412},{"p":"c","s":"+DCMU+MV","t":114,"v":-0.391},{"p":"c","s":"+DCMU+MV","t":122,"v":-0.37},{"p":"c","s":"+DCMU+MV","t":131,"v":-0.346},{"p":"c","s":"+DCMU+MV","t":140,"v":-0.321},{"p":"c","s":"+DCMU+MV","t":151,"v":-0.293},{"p":"c","s":"+DCMU+MV","t":162,"v":-0.272},{"p":"c","s":"+DCMU+MV","t":175,"v":-0.243},{"p":"c","s":"+DCMU+MV","t":188,"v":-0.215},{"p":"c","s":"+DCMU+MV","t":201,"v":-0.195},{"p":"c","s":"+DCMU+MV","t":215,"v":-0.183},{"p":"c","s":"+DCMU+MV","t":231,"v":-0.176},{"p":"c","s":"+DCMU+MV","t":248,"v":-0.172},{"p":"c","s":"+DCMU+MV","t":266,"v":-0.168},{"p":"c","s":"+DCMU+MV","t":284,"v":-0.165},{"p":"c","s":"+DCMU+MV","t":303,"v":-0.162},{"p":"c","s":"+DCMU+MV","t":324,"v":-0.16},{"p":"c","s":"+DCMU+MV","t":347,"v":-0.158},{"p":"c","s":"+DCMU+MV","t":372,"v":-0.156},{"p":"c","s":"+DCMU+MV","t":397,"v":-0.154},{"p":"c","s":"+DCMU+MV","t":423,"v":-0.153},{"p":"c","s":"+DCMU+MV","t":453,"v":-0.152},{"p":"c","s":"+DCMU+MV","t":483,"v":-0.151},
{"p":"c","s":"+MV","t":3,"v":-0.93},{"p":"c","s":"+MV","t":5,"v":-0.85},{"p":"c","s":"+MV","t":7,"v":-0.78},{"p":"c","s":"+MV","t":9,"v":-0.68},{"p":"c","s":"+MV","t":11,"v":-0.6},{"p":"c","s":"+MV","t":13,"v":-0.5},{"p":"c","s":"+MV","t":15,"v":-0.41},{"p":"c","s":"+MV","t":17,"v":-0.37},{"p":"c","s":"+MV","t":19,"v":-0.34},{"p":"c","s":"+MV","t":21,"v":-0.3},{"p":"c","s":"+MV","t":23,"v":-0.275},{"p":"c","s":"+MV","t":25,"v":-0.255},{"p":"c","s":"+MV","t":28,"v":-0.235},{"p":"c","s":"+MV","t":31,"v":-0.217},{"p":"c","s":"+MV","t":34,"v":-0.205},{"p":"c","s":"+MV","t":37,"v":-0.196},{"p":"c","s":"+MV","t":40,"v":-0.189},{"p":"c","s":"+MV","t":44,"v":-0.181},{"p":"c","s":"+MV","t":48,"v":-0.174},{"p":"c","s":"+MV","t":52,"v":-0.168},{"p":"c","s":"+MV","t":56,"v":-0.163},{"p":"c","s":"+MV","t":60,"v":-0.159},{"p":"c","s":"+MV","t":64,"v":-0.155},{"p":"c","s":"+MV","t":69,"v":-0.151},{"p":"c","s":"+MV","t":74,"v":-0.147},{"p":"c","s":"+MV","t":80,"v":-0.143},{"p":"c","s":"+MV","t":86,"v":-0.137},{"p":"c","s":"+MV","t":92,"v":-0.131},{"p":"c","s":"+MV","t":99,"v":-0.127},{"p":"c","s":"+MV","t":106,"v":-0.124},{"p":"c","s":"+MV","t":114,"v":-0.12},{"p":"c","s":"+MV","t":122,"v":-0.117},{"p":"c","s":"+MV","t":131,"v":-0.114},{"p":"c","s":"+MV","t":140,"v":-0.11},{"p":"c","s":"+MV","t":151,"v":-0.107},{"p":"c","s":"+MV","t":162,"v":-0.104},{"p":"c","s":"+MV","t":175,"v":-0.1},{"p":"c","s":"+MV","t":188,"v":-0.098},{"p":"c","s":"+MV","t":201,"v":-0.096},{"p":"c","s":"+MV","t":215,"v":-0.095},{"p":"c","s":"+MV","t":231,"v":-0.093},{"p":"c","s":"+MV","t":248,"v":-0.09},{"p":"c","s":"+MV","t":266,"v":-0.088},{"p":"c","s":"+MV","t":284,"v":-0.086},{"p":"c","s":"+MV","t":303,"v":-0.083},{"p":"c","s":"+MV","t":324,"v":-0.081},{"p":"c","s":"+MV","t":347,"v":-0.079},{"p":"c","s":"+MV","t":372,"v":-0.077},{"p":"c","s":"+MV","t":397,"v":-0.075},{"p":"c","s":"+MV","t":423,"v":-0.07},{"p":"c","s":"+MV","t":453,"v":-0.066},{"p":"c","s":"+MV","t":483,"v":-0.064},
{"p":"d","s":"SUF Knockdown Ht","t":3,"v":-0.95},{"p":"d","s":"SUF Knockdown Ht","t":5,"v":-0.88},{"p":"d","s":"SUF Knockdown Ht","t":7,"v":-0.83},{"p":"d","s":"SUF Knockdown Ht","t":9,"v":-0.76},{"p":"d","s":"SUF Knockdown Ht","t":11,"v":-0.66},{"p":"d","s":"SUF Knockdown Ht","t":13,"v":-0.58},{"p":"d","s":"SUF Knockdown Ht","t":15,"v":-0.52},{"p":"d","s":"SUF Knockdown Ht","t":17,"v":-0.47},{"p":"d","s":"SUF Knockdown Ht","t":19,"v":-0.425},{"p":"d","s":"SUF Knockdown Ht","t":21,"v":-0.39},{"p":"d","s":"SUF Knockdown Ht","t":23,"v":-0.35},{"p":"d","s":"SUF Knockdown Ht","t":25,"v":-0.31},{"p":"d","s":"SUF Knockdown Ht","t":28,"v":-0.27},{"p":"d","s":"SUF Knockdown Ht","t":31,"v":-0.24},{"p":"d","s":"SUF Knockdown Ht","t":34,"v":-0.215},{"p":"d","s":"SUF Knockdown Ht","t":37,"v":-0.197},{"p":"d","s":"SUF Knockdown Ht","t":40,"v":-0.182},{"p":"d","s":"SUF Knockdown Ht","t":44,"v":-0.167},{"p":"d","s":"SUF Knockdown Ht","t":48,"v":-0.155},{"p":"d","s":"SUF Knockdown Ht","t":52,"v":-0.145},{"p":"d","s":"SUF Knockdown Ht","t":56,"v":-0.135},{"p":"d","s":"SUF Knockdown Ht","t":60,"v":-0.125},{"p":"d","s":"SUF Knockdown Ht","t":64,"v":-0.117},{"p":"d","s":"SUF Knockdown Ht","t":69,"v":-0.109},{"p":"d","s":"SUF Knockdown Ht","t":74,"v":-0.102},{"p":"d","s":"SUF Knockdown Ht","t":80,"v":-0.096},{"p":"d","s":"SUF Knockdown Ht","t":86,"v":-0.09},{"p":"d","s":"SUF Knockdown Ht","t":92,"v":-0.085},{"p":"d","s":"SUF Knockdown Ht","t":99,"v":-0.08},{"p":"d","s":"SUF Knockdown Ht","t":106,"v":-0.076},{"p":"d","s":"SUF Knockdown Ht","t":114,"v":-0.07},{"p":"d","s":"SUF Knockdown Ht","t":122,"v":-0.066},{"p":"d","s":"SUF Knockdown Ht","t":131,"v":-0.06},{"p":"d","s":"SUF Knockdown Ht","t":140,"v":-0.056},{"p":"d","s":"SUF Knockdown Ht","t":151,"v":-0.052},{"p":"d","s":"SUF Knockdown Ht","t":162,"v":-0.049},{"p":"d","s":"SUF Knockdown Ht","t":175,"v":-0.047},{"p":"d","s":"SUF Knockdown Ht","t":188,"v":-0.047},{"p":"d","s":"SUF Knockdown Ht","t":201,"v":-0.049},{"p":"d","s":"SUF Knockdown Ht","t":215,"v":-0.052},{"p":"d","s":"SUF Knockdown Ht","t":231,"v":-0.055},{"p":"d","s":"SUF Knockdown Ht","t":248,"v":-0.058},{"p":"d","s":"SUF Knockdown Ht","t":266,"v":-0.061},{"p":"d","s":"SUF Knockdown Ht","t":284,"v":-0.064},{"p":"d","s":"SUF Knockdown Ht","t":303,"v":-0.066},{"p":"d","s":"SUF Knockdown Ht","t":324,"v":-0.069},{"p":"d","s":"SUF Knockdown Ht","t":347,"v":-0.071},{"p":"d","s":"SUF Knockdown Ht","t":372,"v":-0.073},{"p":"d","s":"SUF Knockdown Ht","t":397,"v":-0.075},{"p":"d","s":"SUF Knockdown Ht","t":423,"v":-0.077},{"p":"d","s":"SUF Knockdown Ht","t":453,"v":-0.079},{"p":"d","s":"SUF Knockdown Ht","t":483,"v":-0.08},
{"p":"d","s":"+DCMU","t":3,"v":-0.97},{"p":"d","s":"+DCMU","t":5,"v":-0.945},{"p":"d","s":"+DCMU","t":7,"v":-0.925},{"p":"d","s":"+DCMU","t":9,"v":-0.91},{"p":"d","s":"+DCMU","t":11,"v":-0.9},{"p":"d","s":"+DCMU","t":13,"v":-0.893},{"p":"d","s":"+DCMU","t":15,"v":-0.885},{"p":"d","s":"+DCMU","t":17,"v":-0.865},{"p":"d","s":"+DCMU","t":19,"v":-0.845},{"p":"d","s":"+DCMU","t":21,"v":-0.828},{"p":"d","s":"+DCMU","t":23,"v":-0.812},{"p":"d","s":"+DCMU","t":25,"v":-0.795},{"p":"d","s":"+DCMU","t":28,"v":-0.772},{"p":"d","s":"+DCMU","t":31,"v":-0.75},{"p":"d","s":"+DCMU","t":34,"v":-0.725},{"p":"d","s":"+DCMU","t":37,"v":-0.7},{"p":"d","s":"+DCMU","t":40,"v":-0.68},{"p":"d","s":"+DCMU","t":44,"v":-0.64},{"p":"d","s":"+DCMU","t":48,"v":-0.595},{"p":"d","s":"+DCMU","t":52,"v":-0.555},{"p":"d","s":"+DCMU","t":56,"v":-0.515},{"p":"d","s":"+DCMU","t":60,"v":-0.475},{"p":"d","s":"+DCMU","t":64,"v":-0.445},{"p":"d","s":"+DCMU","t":69,"v":-0.415},{"p":"d","s":"+DCMU","t":74,"v":-0.39},{"p":"d","s":"+DCMU","t":80,"v":-0.345},{"p":"d","s":"+DCMU","t":86,"v":-0.31},{"p":"d","s":"+DCMU","t":92,"v":-0.275},{"p":"d","s":"+DCMU","t":99,"v":-0.25},{"p":"d","s":"+DCMU","t":106,"v":-0.228},{"p":"d","s":"+DCMU","t":114,"v":-0.208},{"p":"d","s":"+DCMU","t":122,"v":-0.185},{"p":"d","s":"+DCMU","t":131,"v":-0.158},{"p":"d","s":"+DCMU","t":140,"v":-0.138},{"p":"d","s":"+DCMU","t":151,"v":-0.127},{"p":"d","s":"+DCMU","t":162,"v":-0.113},{"p":"d","s":"+DCMU","t":175,"v":-0.1},{"p":"d","s":"+DCMU","t":188,"v":-0.1},{"p":"d","s":"+DCMU","t":201,"v":-0.098},{"p":"d","s":"+DCMU","t":215,"v":-0.097},{"p":"d","s":"+DCMU","t":231,"v":-0.098},{"p":"d","s":"+DCMU","t":248,"v":-0.098},{"p":"d","s":"+DCMU","t":266,"v":-0.1},{"p":"d","s":"+DCMU","t":284,"v":-0.098},{"p":"d","s":"+DCMU","t":303,"v":-0.097},{"p":"d","s":"+DCMU","t":324,"v":-0.096},{"p":"d","s":"+DCMU","t":347,"v":-0.097},{"p":"d","s":"+DCMU","t":372,"v":-0.098},{"p":"d","s":"+DCMU","t":397,"v":-0.098},{"p":"d","s":"+DCMU","t":423,"v":-0.097},{"p":"d","s":"+DCMU","t":453,"v":-0.099},{"p":"d","s":"+DCMU","t":483,"v":-0.1},
{"p":"d","s":"+DCMU+MV","t":3,"v":-0.995},{"p":"d","s":"+DCMU+MV","t":5,"v":-0.98},{"p":"d","s":"+DCMU+MV","t":7,"v":-0.96},{"p":"d","s":"+DCMU+MV","t":9,"v":-0.94},{"p":"d","s":"+DCMU+MV","t":11,"v":-0.925},{"p":"d","s":"+DCMU+MV","t":13,"v":-0.91},{"p":"d","s":"+DCMU+MV","t":15,"v":-0.9},{"p":"d","s":"+DCMU+MV","t":17,"v":-0.89},{"p":"d","s":"+DCMU+MV","t":19,"v":-0.878},{"p":"d","s":"+DCMU+MV","t":21,"v":-0.865},{"p":"d","s":"+DCMU+MV","t":23,"v":-0.852},{"p":"d","s":"+DCMU+MV","t":25,"v":-0.838},{"p":"d","s":"+DCMU+MV","t":28,"v":-0.82},{"p":"d","s":"+DCMU+MV","t":31,"v":-0.8},{"p":"d","s":"+DCMU+MV","t":34,"v":-0.778},{"p":"d","s":"+DCMU+MV","t":37,"v":-0.76},{"p":"d","s":"+DCMU+MV","t":40,"v":-0.745},{"p":"d","s":"+DCMU+MV","t":44,"v":-0.725},{"p":"d","s":"+DCMU+MV","t":48,"v":-0.705},{"p":"d","s":"+DCMU+MV","t":52,"v":-0.684},{"p":"d","s":"+DCMU+MV","t":56,"v":-0.662},{"p":"d","s":"+DCMU+MV","t":60,"v":-0.641},{"p":"d","s":"+DCMU+MV","t":64,"v":-0.62},{"p":"d","s":"+DCMU+MV","t":69,"v":-0.594},{"p":"d","s":"+DCMU+MV","t":74,"v":-0.567},{"p":"d","s":"+DCMU+MV","t":80,"v":-0.535},{"p":"d","s":"+DCMU+MV","t":86,"v":-0.505},{"p":"d","s":"+DCMU+MV","t":92,"v":-0.473},{"p":"d","s":"+DCMU+MV","t":99,"v":-0.434},{"p":"d","s":"+DCMU+MV","t":106,"v":-0.397},{"p":"d","s":"+DCMU+MV","t":114,"v":-0.37},{"p":"d","s":"+DCMU+MV","t":122,"v":-0.328},{"p":"d","s":"+DCMU+MV","t":131,"v":-0.3},{"p":"d","s":"+DCMU+MV","t":140,"v":-0.283},{"p":"d","s":"+DCMU+MV","t":151,"v":-0.24},{"p":"d","s":"+DCMU+MV","t":162,"v":-0.22},{"p":"d","s":"+DCMU+MV","t":175,"v":-0.182},{"p":"d","s":"+DCMU+MV","t":188,"v":-0.157},{"p":"d","s":"+DCMU+MV","t":201,"v":-0.133},{"p":"d","s":"+DCMU+MV","t":215,"v":-0.115},{"p":"d","s":"+DCMU+MV","t":231,"v":-0.095},{"p":"d","s":"+DCMU+MV","t":248,"v":-0.085},{"p":"d","s":"+DCMU+MV","t":266,"v":-0.08},{"p":"d","s":"+DCMU+MV","t":284,"v":-0.077},{"p":"d","s":"+DCMU+MV","t":303,"v":-0.075},{"p":"d","s":"+DCMU+MV","t":324,"v":-0.075},{"p":"d","s":"+DCMU+MV","t":347,"v":-0.074},{"p":"d","s":"+DCMU+MV","t":372,"v":-0.074},{"p":"d","s":"+DCMU+MV","t":397,"v":-0.074},{"p":"d","s":"+DCMU+MV","t":423,"v":-0.073},{"p":"d","s":"+DCMU+MV","t":453,"v":-0.072},{"p":"d","s":"+DCMU+MV","t":483,"v":-0.072},
{"p":"d","s":"+MV","t":3,"v":-0.9},{"p":"d","s":"+MV","t":5,"v":-0.84},{"p":"d","s":"+MV","t":7,"v":-0.79},{"p":"d","s":"+MV","t":9,"v":-0.75},{"p":"d","s":"+MV","t":11,"v":-0.65},{"p":"d","s":"+MV","t":13,"v":-0.52},{"p":"d","s":"+MV","t":15,"v":-0.42},{"p":"d","s":"+MV","t":17,"v":-0.36},{"p":"d","s":"+MV","t":19,"v":-0.315},{"p":"d","s":"+MV","t":21,"v":-0.28},{"p":"d","s":"+MV","t":23,"v":-0.258},{"p":"d","s":"+MV","t":25,"v":-0.24},{"p":"d","s":"+MV","t":28,"v":-0.22},{"p":"d","s":"+MV","t":31,"v":-0.205},{"p":"d","s":"+MV","t":34,"v":-0.19},{"p":"d","s":"+MV","t":37,"v":-0.18},{"p":"d","s":"+MV","t":40,"v":-0.17},{"p":"d","s":"+MV","t":44,"v":-0.158},{"p":"d","s":"+MV","t":48,"v":-0.146},{"p":"d","s":"+MV","t":52,"v":-0.136},{"p":"d","s":"+MV","t":56,"v":-0.127},{"p":"d","s":"+MV","t":60,"v":-0.119},{"p":"d","s":"+MV","t":64,"v":-0.112},{"p":"d","s":"+MV","t":69,"v":-0.104},{"p":"d","s":"+MV","t":74,"v":-0.097},{"p":"d","s":"+MV","t":80,"v":-0.09},{"p":"d","s":"+MV","t":86,"v":-0.084},{"p":"d","s":"+MV","t":92,"v":-0.078},{"p":"d","s":"+MV","t":99,"v":-0.072},{"p":"d","s":"+MV","t":106,"v":-0.067},{"p":"d","s":"+MV","t":114,"v":-0.062},{"p":"d","s":"+MV","t":122,"v":-0.058},{"p":"d","s":"+MV","t":131,"v":-0.054},{"p":"d","s":"+MV","t":140,"v":-0.05},{"p":"d","s":"+MV","t":151,"v":-0.047},{"p":"d","s":"+MV","t":162,"v":-0.044},{"p":"d","s":"+MV","t":175,"v":-0.041},{"p":"d","s":"+MV","t":188,"v":-0.039},{"p":"d","s":"+MV","t":201,"v":-0.038},{"p":"d","s":"+MV","t":215,"v":-0.037},{"p":"d","s":"+MV","t":231,"v":-0.037},{"p":"d","s":"+MV","t":248,"v":-0.037},{"p":"d","s":"+MV","t":266,"v":-0.038},{"p":"d","s":"+MV","t":284,"v":-0.039},{"p":"d","s":"+MV","t":303,"v":-0.04},{"p":"d","s":"+MV","t":324,"v":-0.042},{"p":"d","s":"+MV","t":347,"v":-0.045},{"p":"d","s":"+MV","t":372,"v":-0.048},{"p":"d","s":"+MV","t":397,"v":-0.05},{"p":"d","s":"+MV","t":423,"v":-0.053},{"p":"d","s":"+MV","t":453,"v":-0.056},{"p":"d","s":"+MV","t":483,"v":-0.058}
]
},
"columns": 2,
"spacing": {"row": 46, "column": 57},
"bounds": "flush",
"resolve": {"scale": {"shape": "independent", "x": "independent", "y": "independent"}, "legend": {"shape": "independent"}},
"concat": [
{
 "width": 406, "height": 306,
 "title": {"text": "Photoautotrophic", "font": "Liberation Serif", "fontSize": 24, "fontWeight": "normal", "color": "#111", "anchor": "middle", "offset": 2, "dx": 12, "frame": "group"},
 "layer": [
  {"data": {"name": "pts"}, "transform": [{"filter": "datum.p === 'a'"}],
   "mark": {"type": "point", "filled": true, "opacity": 1, "size": 165, "color": "#111", "strokeWidth": 0},
   "encoding": {
    "x": {"field": "t", "type": "quantitative", "scale": {"domain": [0, 500], "nice": false}, "axis": {"orient": "bottom", "values": [0,100,200,300,400,500], "tickSize": -7, "labels": false, "title": null}},
    "y": {"field": "v", "type": "quantitative", "scale": {"domain": [-1, 0], "nice": false}, "axis": {"orient": "left", "values": [-1,-0.5,0], "tickSize": 9, "format": ".1f", "labelExpr": "replace(datum.label, '\u2212', '-')", "labelFont": "Liberation Serif", "labelFontSize": 18, "labelPadding": 2, "title": "\u0394A700 nm (r. u.)", "titleFont": "Liberation Serif", "titleFontSize": 24, "titleFontWeight": "bold", "titlePadding": 19}},
    "shape": {"field": "s", "type": "nominal", "scale": {"domain": ["WT Pa", "+DCMU", "+DCMU+MV", "+MV"], "range": ["square", "circle", "triangle-up", "triangle-down"]},
     "legend": {"orient": "none", "legendX": 227, "legendY": 207, "title": null, "labelFont": "Liberation Serif", "labelFontSize": 17, "labelColor": "#111", "symbolSize": 130, "symbolFillColor": "#111", "symbolStrokeWidth": 0, "rowPadding": 3.5, "labelOffset": 16, "padding": 0}}
   }},
  {"data": {"name": "lbl"}, "transform": [{"filter": "datum.p === 'a'"}],
   "mark": {"type": "text", "font": "Liberation Serif", "fontWeight": "bold", "fontSize": 25, "baseline": "alphabetic", "align": "center", "color": "#111"},
   "encoding": {
    "x": {"field": "t", "type": "quantitative", "scale": {"domain": [0, 500], "nice": false}, "axis": {"orient": "top", "values": [0,100,200,300,400,500], "tickSize": -7, "labels": false, "title": null}},
    "y": {"field": "v", "type": "quantitative", "scale": {"domain": [-1, 0], "nice": false}, "axis": {"orient": "right", "values": [-1,-0.5,0], "tickSize": -7, "labels": false, "title": null}},
    "text": {"field": "p"}
   }}
 ],
 "resolve": {"axis": {"x": "independent", "y": "independent"}}
},
{
 "width": 406, "height": 306,
 "title": {"text": "Heterotrophic", "font": "Liberation Serif", "fontSize": 24, "fontWeight": "normal", "color": "#111", "anchor": "middle", "offset": 10, "frame": "group"},
 "layer": [
  {"data": {"name": "pts"}, "transform": [{"filter": "datum.p === 'c'"}],
   "mark": {"type": "point", "filled": true, "opacity": 1, "size": 165, "color": "#cbcbcb", "strokeWidth": 0},
   "encoding": {
    "x": {"field": "t", "type": "quantitative", "scale": {"domain": [0, 500], "nice": false}, "axis": {"orient": "bottom", "values": [0,100,200,300,400,500], "tickSize": -7, "labels": false, "title": null}},
    "y": {"field": "v", "type": "quantitative", "scale": {"domain": [-1, 0], "nice": false}, "axis": {"orient": "left", "values": [-1,-0.5,0], "tickSize": 7, "labels": false, "title": null}},
    "shape": {"field": "s", "type": "nominal", "scale": {"domain": ["WT Ht", "+DCMU", "+DCMU+MV", "+MV"], "range": ["square", "circle", "triangle-up", "triangle-down"]},
     "legend": {"orient": "none", "legendX": 227, "legendY": 209, "title": null, "labelFont": "Liberation Serif", "labelFontSize": 17, "labelColor": "#111", "symbolSize": 130, "symbolFillColor": "#cbcbcb", "symbolStrokeWidth": 0, "rowPadding": 3.5, "labelOffset": 16, "padding": 0}}
   }},
  {"data": {"name": "lbl"}, "transform": [{"filter": "datum.p === 'c'"}],
   "mark": {"type": "text", "font": "Liberation Serif", "fontWeight": "bold", "fontSize": 25, "baseline": "alphabetic", "align": "center", "color": "#111"},
   "encoding": {
    "x": {"field": "t", "type": "quantitative", "scale": {"domain": [0, 500], "nice": false}, "axis": {"orient": "top", "values": [0,100,200,300,400,500], "tickSize": -7, "labels": false, "title": null}},
    "y": {"field": "v", "type": "quantitative", "scale": {"domain": [-1, 0], "nice": false}, "axis": {"orient": "right", "values": [-1,-0.5,0], "tickSize": -7, "labels": false, "title": null}},
    "text": {"field": "p"}
   }}
 ],
 "resolve": {"axis": {"x": "independent", "y": "independent"}}
},
{
 "width": 406, "height": 306,
 "layer": [
  {"data": {"name": "pts"}, "transform": [{"filter": "datum.p === 'b'"}],
   "mark": {"type": "point", "filled": true, "opacity": 1, "size": 165, "color": "#111", "strokeWidth": 0},
   "encoding": {
    "x": {"field": "t", "type": "quantitative", "scale": {"domain": [0, 500], "nice": false}, "axis": {"orient": "bottom", "values": [0,100,200,300,400,500], "tickSize": -7, "labelPadding": 15, "labelFont": "Liberation Serif", "labelFontSize": 19, "title": "Time (ms)", "titleFont": "Liberation Serif", "titleFontSize": 23, "titleFontWeight": "bold", "titlePadding": 6}},
    "y": {"field": "v", "type": "quantitative", "scale": {"domain": [-1, 0], "nice": false}, "axis": {"orient": "left", "values": [-1,-0.5,0], "tickSize": 9, "format": ".1f", "labelExpr": "replace(datum.label, '\u2212', '-')", "labelFont": "Liberation Serif", "labelFontSize": 18, "labelPadding": 2, "title": "\u0394A700 nm (r. u.)", "titleFont": "Liberation Serif", "titleFontSize": 24, "titleFontWeight": "bold", "titlePadding": 19}},
    "shape": {"field": "s", "type": "nominal", "scale": {"domain": ["SUF Knockdown Pa", "+DCMU", "+DCMU+MV", "+MV"], "range": ["square", "circle", "triangle-up", "triangle-down"]},
     "legend": {"orient": "none", "legendX": 227, "legendY": 209, "title": null, "labelFont": "Liberation Serif", "labelFontSize": 17, "labelColor": "#111", "symbolSize": 130, "symbolFillColor": "#111", "symbolStrokeWidth": 0, "rowPadding": 3.5, "labelOffset": 16, "padding": 0}}
   }},
  {"data": {"name": "lbl"}, "transform": [{"filter": "datum.p === 'b'"}],
   "mark": {"type": "text", "font": "Liberation Serif", "fontWeight": "bold", "fontSize": 25, "baseline": "alphabetic", "align": "center", "color": "#111"},
   "encoding": {
    "x": {"field": "t", "type": "quantitative", "scale": {"domain": [0, 500], "nice": false}, "axis": {"orient": "top", "values": [0,100,200,300,400,500], "tickSize": -7, "labels": false, "title": null}},
    "y": {"field": "v", "type": "quantitative", "scale": {"domain": [-1, 0], "nice": false}, "axis": {"orient": "right", "values": [-1,-0.5,0], "tickSize": -7, "labels": false, "title": null}},
    "text": {"field": "p"}
   }}
 ],
 "resolve": {"axis": {"x": "independent", "y": "independent"}}
},
{
 "width": 406, "height": 306,
 "layer": [
  {"data": {"name": "pts"}, "transform": [{"filter": "datum.p === 'd'"}],
   "mark": {"type": "point", "filled": true, "opacity": 1, "size": 165, "color": "#cbcbcb", "strokeWidth": 0},
   "encoding": {
    "x": {"field": "t", "type": "quantitative", "scale": {"domain": [0, 500], "nice": false}, "axis": {"orient": "bottom", "values": [0,100,200,300,400,500], "tickSize": -7, "labelPadding": 15, "labelFont": "Liberation Serif", "labelFontSize": 19, "title": "Time (ms)", "titleFont": "Liberation Serif", "titleFontSize": 23, "titleFontWeight": "bold", "titlePadding": 6}},
    "y": {"field": "v", "type": "quantitative", "scale": {"domain": [-1, 0], "nice": false}, "axis": {"orient": "left", "values": [-1,-0.5,0], "tickSize": 7, "labels": false, "title": null}},
    "shape": {"field": "s", "type": "nominal", "scale": {"domain": ["SUF Knockdown Ht", "+DCMU", "+DCMU+MV", "+MV"], "range": ["square", "circle", "triangle-up", "triangle-down"]},
     "legend": {"orient": "none", "legendX": 227, "legendY": 209, "title": null, "labelFont": "Liberation Serif", "labelFontSize": 17, "labelColor": "#111", "symbolSize": 130, "symbolFillColor": "#cbcbcb", "symbolStrokeWidth": 0, "rowPadding": 3.5, "labelOffset": 16, "padding": 0}}
   }},
  {"data": {"name": "lbl"}, "transform": [{"filter": "datum.p === 'd'"}],
   "mark": {"type": "text", "font": "Liberation Serif", "fontWeight": "bold", "fontSize": 25, "baseline": "alphabetic", "align": "center", "color": "#111"},
   "encoding": {
    "x": {"field": "t", "type": "quantitative", "scale": {"domain": [0, 500], "nice": false}, "axis": {"orient": "top", "values": [0,100,200,300,400,500], "tickSize": -7, "labels": false, "title": null}},
    "y": {"field": "v", "type": "quantitative", "scale": {"domain": [-1, 0], "nice": false}, "axis": {"orient": "right", "values": [-1,-0.5,0], "tickSize": -7, "labels": false, "title": null}},
    "text": {"field": "p"}
   }}
 ],
 "resolve": {"axis": {"x": "independent", "y": "independent"}}
}
]
}
